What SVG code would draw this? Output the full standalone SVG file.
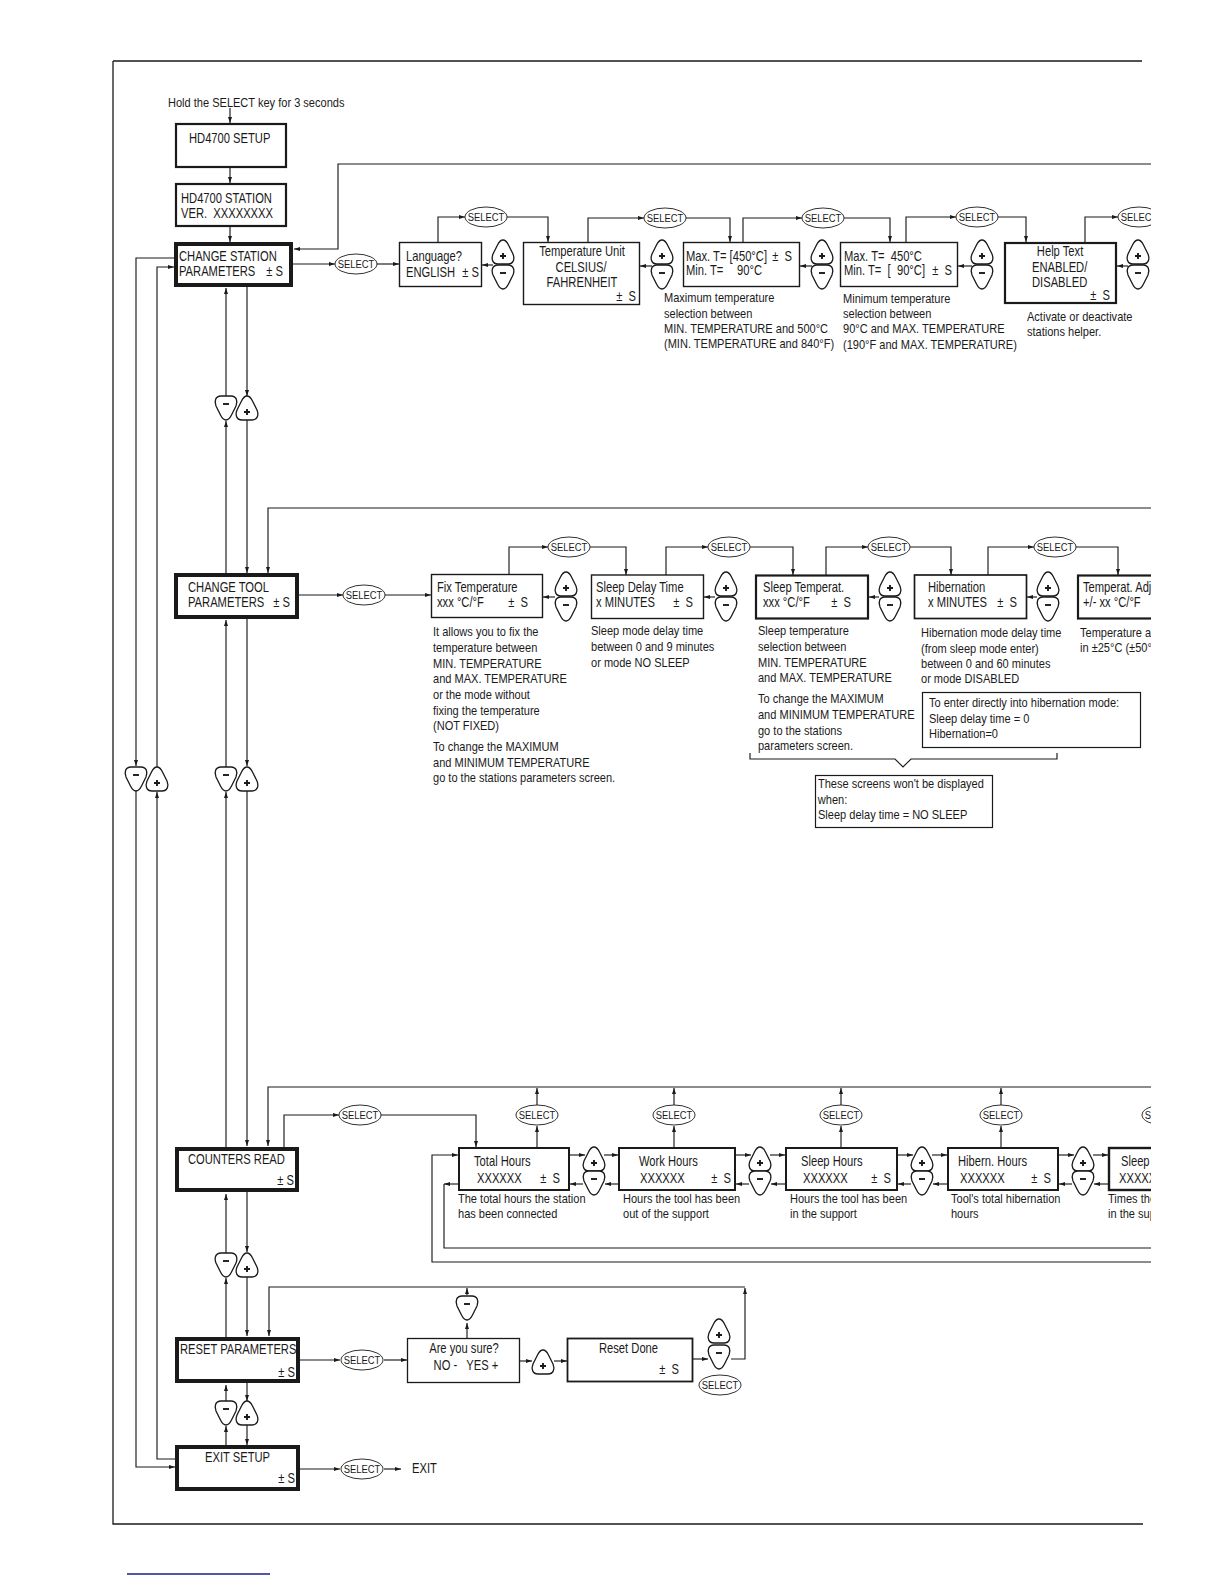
<svg xmlns="http://www.w3.org/2000/svg" xmlns:xlink="http://www.w3.org/1999/xlink" width="1224" height="1584" viewBox="0 0 1224 1584">
<style>
text{font-family:"Liberation Sans",Arial,Helvetica,sans-serif;fill:#1a1a1a;white-space:pre;transform-box:fill-box;transform-origin:0 50%;transform:scaleX(0.8)}
.b{font-size:14px}
.d{font-size:13px;transform:scaleX(0.85)}
.m{text-anchor:middle;transform-origin:50% 50%}
.e{text-anchor:end;transform-origin:100% 50%}
.s{font-size:11.5px;text-anchor:middle;transform-origin:50% 50%;transform:scaleX(0.82)}
.bx{fill:#fff;stroke:#1a1a1a;stroke-width:1.4}
.bm{stroke-width:2.2}
.bk{stroke-width:4}
.cn path{fill:none;stroke:#1a1a1a;stroke-width:1.15}
.ov{fill:#fff;stroke:#1a1a1a;stroke-width:0.9}
.btn{fill:#fff;stroke:#1a1a1a;stroke-width:1.3}
.mk{stroke:#1a1a1a;stroke-width:1.9;fill:none}
.fr{fill:none;stroke:#1a1a1a;stroke-width:1.3}
</style>
<defs>
<marker id="a" viewBox="0 0 6 4" refX="6" refY="2" markerWidth="6" markerHeight="4" markerUnits="userSpaceOnUse" orient="auto"><path d="M0,0 L6,2 L0,4 Z" fill="#1a1a1a"/></marker>
<g id="bp"><path class="btn" d="M0,-12 C2.5,-12 4,-10 5.5,-7 L10,2 C12,7 10.5,12 5,12 L-5,12 C-10.5,12 -12,7 -10,2 L-5.5,-7 C-4,-10 -2.5,-12 0,-12 Z"/><path class="mk" d="M-3,4 H3 M0,1 V7"/></g>
<g id="bn"><path class="btn" d="M0,12 C2.5,12 4,10 5.5,7 L10,-2 C12,-7 10.5,-12 5,-12 L-5,-12 C-10.5,-12 -12,-7 -10,-2 L-5.5,7 C-4,10 -2.5,12 0,12 Z"/><path class="mk" d="M-3,-4 H3"/></g>
<g id="sel"><ellipse class="ov" cx="0" cy="0" rx="21" ry="10"/><text class="s" x="0" y="4">SELECT</text></g>
<clipPath id="clip"><rect x="0" y="0" width="1151" height="1584"/></clipPath>
</defs>
<rect x="0" y="0" width="1224" height="1584" fill="#fff"/>
<g id="frame">
<path class="fr" d="M113,61 H1142 M113,61 V1524 H1143"/>
<path d="M127,1574 H270" stroke="#1c1c8a" stroke-width="1.3" fill="none"/>
</g>
<g clip-path="url(#clip)">
<g id="connectors" class="cn">
<path d="M230,108 V123" marker-end="url(#a)"/>
<path d="M230,168 V183" marker-end="url(#a)"/>
<path d="M230,227 V242" marker-end="url(#a)"/>
<path d="M1160,164 H338 V249 H294" marker-end="url(#a)"/>
<path d="M293,264 H335" marker-end="url(#a)"/>
<path d="M377,264 H399" marker-end="url(#a)"/>
<path d="M438,242 V217 H465" marker-end="url(#a)"/>
<path d="M507,217 H548 V242" marker-end="url(#a)"/>
<path d="M588,242 V218 H644" marker-end="url(#a)"/>
<path d="M686,218 H730 V242" marker-end="url(#a)"/>
<path d="M743,242 V218 H802" marker-end="url(#a)"/>
<path d="M844,218 H890 V242" marker-end="url(#a)"/>
<path d="M906,242 V217 H956" marker-end="url(#a)"/>
<path d="M998,217 H1026 V242" marker-end="url(#a)"/>
<path d="M1085,242 V217 H1118" marker-end="url(#a)"/>
<path d="M493,265 H482" marker-end="url(#a)"/>
<path d="M652,266 H640" marker-end="url(#a)"/>
<path d="M812,266 H800" marker-end="url(#a)"/>
<path d="M972,266 H958" marker-end="url(#a)"/>
<path d="M1128,266 H1117" marker-end="url(#a)"/>
<path d="M174,258 H136 V766" marker-end="url(#a)"/>
<path d="M136,791 V1467 H175" marker-end="url(#a)"/>
<path d="M175,1459 H157 V792" marker-end="url(#a)"/>
<path d="M157,767 V267 H174" marker-end="url(#a)"/>
<path d="M226,573 V421" marker-end="url(#a)"/>
<path d="M226,396 V288" marker-end="url(#a)"/>
<path d="M247,287 V396" marker-end="url(#a)"/>
<path d="M247,420 V573" marker-end="url(#a)"/>
<path d="M1160,508 H268 V573" marker-end="url(#a)"/>
<path d="M299,595 H343" marker-end="url(#a)"/>
<path d="M385,595 H431" marker-end="url(#a)"/>
<path d="M509,574 V547 H548" marker-end="url(#a)"/>
<path d="M590,547 H626 V575" marker-end="url(#a)"/>
<path d="M666,575 V547 H708" marker-end="url(#a)"/>
<path d="M750,547 H793 V575" marker-end="url(#a)"/>
<path d="M826,575 V547 H868" marker-end="url(#a)"/>
<path d="M910,547 H951 V575" marker-end="url(#a)"/>
<path d="M988,575 V547 H1034" marker-end="url(#a)"/>
<path d="M1076,547 H1118 V575" marker-end="url(#a)"/>
<path d="M555,597 H543" marker-end="url(#a)"/>
<path d="M715,597 H704" marker-end="url(#a)"/>
<path d="M879,597 H869" marker-end="url(#a)"/>
<path d="M1037,597 H1027" marker-end="url(#a)"/>
<path d="M226,1147 V792" marker-end="url(#a)"/>
<path d="M226,767 V620" marker-end="url(#a)"/>
<path d="M247,619 V766" marker-end="url(#a)"/>
<path d="M247,791 V1146" marker-end="url(#a)"/>
<path d="M1160,1087 H268 V1146" marker-end="url(#a)"/>
<path d="M284,1147 V1115 H339" marker-end="url(#a)"/>
<path d="M381,1115 H476 V1147" marker-end="url(#a)"/>
<path d="M537,1147 V1126" marker-end="url(#a)"/>
<path d="M537,1105 V1088" marker-end="url(#a)"/>
<path d="M674,1147 V1126" marker-end="url(#a)"/>
<path d="M674,1105 V1088" marker-end="url(#a)"/>
<path d="M841,1147 V1126" marker-end="url(#a)"/>
<path d="M841,1105 V1088" marker-end="url(#a)"/>
<path d="M1001,1147 V1126" marker-end="url(#a)"/>
<path d="M1001,1105 V1088" marker-end="url(#a)"/>
<path d="M1163,1147 V1126" marker-end="url(#a)"/>
<path d="M1163,1105 V1088" marker-end="url(#a)"/>
<path d="M1160,1262 H432 V1155 H458" marker-end="url(#a)"/>
<path d="M458,1184 H444" marker-end="url(#a)"/>
<path d="M444,1184 V1248 H1160"/>
<path d="M570,1155 H585" marker-end="url(#a)"/>
<path d="M604,1155 H618" marker-end="url(#a)"/>
<path d="M618,1184 H605" marker-end="url(#a)"/>
<path d="M583,1184 H570" marker-end="url(#a)"/>
<path d="M736,1155 H751" marker-end="url(#a)"/>
<path d="M770,1155 H785" marker-end="url(#a)"/>
<path d="M785,1184 H771" marker-end="url(#a)"/>
<path d="M749,1184 H736" marker-end="url(#a)"/>
<path d="M898,1155 H913" marker-end="url(#a)"/>
<path d="M932,1155 H947" marker-end="url(#a)"/>
<path d="M947,1184 H933" marker-end="url(#a)"/>
<path d="M911,1184 H898" marker-end="url(#a)"/>
<path d="M1059,1155 H1074" marker-end="url(#a)"/>
<path d="M1093,1155 H1108" marker-end="url(#a)"/>
<path d="M1108,1184 H1094" marker-end="url(#a)"/>
<path d="M1072,1184 H1059" marker-end="url(#a)"/>
<path d="M226,1337 V1278" marker-end="url(#a)"/>
<path d="M226,1253 V1194" marker-end="url(#a)"/>
<path d="M247,1192 V1252" marker-end="url(#a)"/>
<path d="M247,1277 V1336" marker-end="url(#a)"/>
<path d="M731,1359 H745 V1288" marker-end="url(#a)"/>
<path d="M745,1287 H269 V1336" marker-end="url(#a)"/>
<path d="M300,1360 H340" marker-end="url(#a)"/>
<path d="M384,1360 H407" marker-end="url(#a)"/>
<path d="M467,1338 V1323" marker-end="url(#a)"/>
<path d="M467,1295 V1288" marker-end="url(#a)"/>
<path d="M520,1361 H532" marker-end="url(#a)"/>
<path d="M554,1361 H567" marker-end="url(#a)"/>
<path d="M693,1359 H708" marker-end="url(#a)"/>
<path d="M226,1445 V1426" marker-end="url(#a)"/>
<path d="M226,1401 V1385" marker-end="url(#a)"/>
<path d="M247,1383 V1401" marker-end="url(#a)"/>
<path d="M247,1425 V1445" marker-end="url(#a)"/>
<path d="M300,1469 H340" marker-end="url(#a)"/>
<path d="M384,1469 H401" marker-end="url(#a)"/>
<path d="M750,753 V759 H895 L903,767 L911,759 H1057 V753"/>
</g>
<g id="selects">
<use xlink:href="#sel" x="356" y="264"/>
<use xlink:href="#sel" x="486" y="217"/>
<use xlink:href="#sel" x="665" y="218"/>
<use xlink:href="#sel" x="823" y="218"/>
<use xlink:href="#sel" x="977" y="217"/>
<use xlink:href="#sel" x="1139" y="217"/>
<use xlink:href="#sel" x="364" y="595"/>
<use xlink:href="#sel" x="569" y="547"/>
<use xlink:href="#sel" x="729" y="547"/>
<use xlink:href="#sel" x="889" y="547"/>
<use xlink:href="#sel" x="1055" y="547"/>
<use xlink:href="#sel" x="360" y="1115"/>
<use xlink:href="#sel" x="537" y="1115"/>
<use xlink:href="#sel" x="674" y="1115"/>
<use xlink:href="#sel" x="841" y="1115"/>
<use xlink:href="#sel" x="1001" y="1115"/>
<use xlink:href="#sel" x="1163" y="1115"/>
<use xlink:href="#sel" x="362" y="1360"/>
<use xlink:href="#sel" x="720" y="1385"/>
<use xlink:href="#sel" x="362" y="1469"/>
</g>
<g id="buttons">
<use xlink:href="#bp" x="503" y="252"/><use xlink:href="#bn" x="503" y="277"/>
<use xlink:href="#bp" x="662" y="252"/><use xlink:href="#bn" x="662" y="277"/>
<use xlink:href="#bp" x="822" y="252"/><use xlink:href="#bn" x="822" y="277"/>
<use xlink:href="#bp" x="982" y="252"/><use xlink:href="#bn" x="982" y="277"/>
<use xlink:href="#bp" x="1138" y="252"/><use xlink:href="#bn" x="1138" y="277"/>
<use xlink:href="#bp" x="566" y="584"/><use xlink:href="#bn" x="566" y="609"/>
<use xlink:href="#bp" x="726" y="584"/><use xlink:href="#bn" x="726" y="609"/>
<use xlink:href="#bp" x="890" y="584"/><use xlink:href="#bn" x="890" y="609"/>
<use xlink:href="#bp" x="1048" y="584"/><use xlink:href="#bn" x="1048" y="609"/>
<use xlink:href="#bn" x="226" y="408"/><use xlink:href="#bp" x="247" y="408"/>
<use xlink:href="#bn" x="136" y="779"/><use xlink:href="#bp" x="157" y="779"/>
<use xlink:href="#bn" x="226" y="779"/><use xlink:href="#bp" x="247" y="779"/>
<use xlink:href="#bp" x="594" y="1159"/><use xlink:href="#bn" x="594" y="1183"/>
<use xlink:href="#bp" x="760" y="1159"/><use xlink:href="#bn" x="760" y="1183"/>
<use xlink:href="#bp" x="922" y="1159"/><use xlink:href="#bn" x="922" y="1183"/>
<use xlink:href="#bp" x="1083" y="1159"/><use xlink:href="#bn" x="1083" y="1183"/>
<use xlink:href="#bn" x="226" y="1265"/><use xlink:href="#bp" x="247" y="1265"/>
<use xlink:href="#bn" x="467" y="1308"/>
<use xlink:href="#bp" x="543" y="1362"/>
<use xlink:href="#bp" x="719" y="1331"/><use xlink:href="#bn" x="719" y="1357"/>
<use xlink:href="#bn" x="226" y="1413"/><use xlink:href="#bp" x="247" y="1413"/>
</g>
<text class="d" x="168" y="107">Hold the SELECT key for 3 seconds</text>
<g id="setup"><rect class="bx bm" x="176" y="124" width="110" height="43"/><text class="b" x="189" y="143">HD4700 SETUP</text></g>
<g id="station"><rect class="bx bm" x="176" y="184" width="110" height="42"/><text class="b" x="181" y="203">HD4700 STATION</text><text class="b" x="181" y="218">VER.  XXXXXXXX</text></g>
<g id="change-station"><rect class="bx bk" x="176" y="244" width="115" height="41"/><text class="b" x="179" y="261">CHANGE STATION</text><text class="b" x="179" y="276">PARAMETERS</text><text class="b e" x="283" y="276">± S</text></g>
<g id="language"><rect class="bx" x="399.5" y="242.5" width="82" height="44"/><text class="b" x="406" y="261">Language?</text><text class="b" x="406" y="277">ENGLISH</text><text class="b e" x="479" y="277">± S</text></g>
<g id="temp-unit"><rect class="bx" x="523.5" y="242.5" width="116" height="62"/><text class="b m" x="582" y="256">Temperature Unit</text><text class="b m" x="581" y="272">CELSIUS/</text><text class="b m" x="582" y="287">FAHRENHEIT</text><text class="b e" x="636" y="301">±  S</text></g>
<g id="max-t"><rect class="bx" x="683.5" y="242.5" width="116" height="44"/><text class="b" x="686" y="261">Max. T= [450°C]</text><text class="b e" x="792" y="261">±  S</text><text class="b" x="686" y="275">Min. T=</text><text class="b" x="737" y="275">90°C</text></g>
<text class="d" x="664" y="302">Maximum temperature</text>
<text class="d" x="664" y="318">selection between</text>
<text class="d" x="664" y="333">MIN. TEMPERATURE and 500°C</text>
<text class="d" x="664" y="348">(MIN. TEMPERATURE and 840°F)</text>
<g id="min-t"><rect class="bx" x="840.5" y="242.5" width="117" height="44"/><text class="b" x="844" y="261">Max. T=  450°C</text><text class="b" x="844" y="275">Min. T=  [  90°C]</text><text class="b e" x="952" y="275">±  S</text></g>
<text class="d" x="843" y="303">Minimum temperature</text>
<text class="d" x="843" y="318">selection between</text>
<text class="d" x="843" y="333">90°C and MAX. TEMPERATURE</text>
<text class="d" x="843" y="349">(190°F and MAX. TEMPERATURE)</text>
<g id="help-text"><rect class="bx bm" x="1005" y="243" width="111" height="60"/><text class="b m" x="1060" y="256">Help Text</text><text class="b" x="1032" y="272">ENABLED/</text><text class="b" x="1032" y="287">DISABLED</text><text class="b e" x="1110" y="300">±  S</text></g>
<text class="d" x="1027" y="321">Activate or deactivate</text>
<text class="d" x="1027" y="336">stations helper.</text>
<g id="change-tool"><rect class="bx bk" x="176" y="575" width="121" height="42"/><text class="b" x="188" y="592">CHANGE TOOL</text><text class="b" x="188" y="607">PARAMETERS</text><text class="b e" x="290" y="607">± S</text></g>
<g id="fix-temp"><rect class="bx" x="431.5" y="574.5" width="111" height="43"/><text class="b" x="437" y="592">Fix Temperature</text><text class="b" x="437" y="607">xxx °C/°F</text><text class="b e" x="528" y="607">±  S</text></g>
<text class="d" x="433" y="636">It allows you to fix the</text>
<text class="d" x="433" y="652">temperature between</text>
<text class="d" x="433" y="668">MIN. TEMPERATURE</text>
<text class="d" x="433" y="683">and MAX. TEMPERATURE</text>
<text class="d" x="433" y="699">or the mode without</text>
<text class="d" x="433" y="715">fixing the temperature</text>
<text class="d" x="433" y="730">(NOT FIXED)</text>
<text class="d" x="433" y="751">To change the MAXIMUM</text>
<text class="d" x="433" y="767">and MINIMUM TEMPERATURE</text>
<text class="d" x="433" y="782">go to the stations parameters screen.</text>
<g id="sleep-delay"><rect class="bx" x="591.5" y="575" width="112" height="43.5"/><text class="b" x="596" y="592">Sleep Delay Time</text><text class="b" x="596" y="607">x MINUTES</text><text class="b e" x="693" y="607">±  S</text></g>
<text class="d" x="591" y="635">Sleep mode delay time</text>
<text class="d" x="591" y="651">between 0 and 9 minutes</text>
<text class="d" x="591" y="667">or mode NO SLEEP</text>
<g id="sleep-temp"><rect class="bx bm" x="756" y="575.5" width="112" height="43"/><text class="b" x="763" y="592">Sleep Temperat.</text><text class="b" x="763" y="607">xxx °C/°F</text><text class="b e" x="851" y="607">±  S</text></g>
<text class="d" x="758" y="635">Sleep temperature</text>
<text class="d" x="758" y="651">selection between</text>
<text class="d" x="758" y="667">MIN. TEMPERATURE</text>
<text class="d" x="758" y="682">and MAX. TEMPERATURE</text>
<text class="d" x="758" y="703">To change the MAXIMUM</text>
<text class="d" x="758" y="719">and MINIMUM TEMPERATURE</text>
<text class="d" x="758" y="735">go to the stations</text>
<text class="d" x="758" y="750">parameters screen.</text>
<g id="hibernation"><rect class="bx" x="914.5" y="575" width="112" height="43.5" style="stroke-width:1.7"/><text class="b" x="928" y="592">Hibernation</text><text class="b" x="928" y="607">x MINUTES</text><text class="b e" x="1017" y="607">±  S</text></g>
<text class="d" x="921" y="637">Hibernation mode delay time</text>
<text class="d" x="921" y="653">(from sleep mode enter)</text>
<text class="d" x="921" y="668">between 0 and 60 minutes</text>
<text class="d" x="921" y="683">or mode DISABLED</text>
<g id="note-hibernation"><rect class="bx" x="922.5" y="692.5" width="218" height="55" style="stroke-width:1.2"/><text class="d" x="929" y="707">To enter directly into hibernation mode:</text><text class="d" x="929" y="723">Sleep delay time = 0</text><text class="d" x="929" y="738">Hibernation=0</text></g>
<g id="temp-adjust"><rect class="bx bm" x="1078" y="575.5" width="100" height="43"/><text class="b" x="1083" y="592">Temperat. Adju</text><text class="b" x="1083" y="607">+/- xx °C/°F</text></g>
<text class="d" x="1080" y="637">Temperature ad</text>
<text class="d" x="1080" y="652">in ±25°C (±50°</text>
<g id="note-sleep"><rect class="bx" x="815.5" y="775.5" width="177" height="52" style="stroke-width:1.2"/><text class="d" x="818" y="788">These screens won't be displayed</text><text class="d" x="818" y="804">when:</text><text class="d" x="818" y="819">Sleep delay time = NO SLEEP</text></g>
<g id="counters-read"><rect class="bx bk" x="177" y="1149" width="120" height="41"/><text class="b" x="188" y="1164">COUNTERS READ</text><text class="b e" x="294" y="1185">± S</text></g>
<g id="total-hours"><rect class="bx" x="459" y="1148" width="110" height="42" style="stroke-width:2"/><text class="b" x="474" y="1166">Total Hours</text><text class="b" x="477" y="1183">XXXXXX</text><text class="b e" x="560" y="1183">±  S</text></g>
<text class="d" x="458" y="1203">The total hours the station</text>
<text class="d" x="458" y="1218">has been connected</text>
<g id="work-hours"><rect class="bx" x="619" y="1148" width="116" height="42" style="stroke-width:2"/><text class="b" x="639" y="1166">Work Hours</text><text class="b" x="640" y="1183">XXXXXX</text><text class="b e" x="731" y="1183">±  S</text></g>
<text class="d" x="623" y="1203">Hours the tool has been</text>
<text class="d" x="623" y="1218">out of the support</text>
<g id="sleep-hours"><rect class="bx" x="786" y="1148" width="111" height="42" style="stroke-width:2"/><text class="b" x="801" y="1166">Sleep Hours</text><text class="b" x="803" y="1183">XXXXXX</text><text class="b e" x="891" y="1183">±  S</text></g>
<text class="d" x="790" y="1203">Hours the tool has been</text>
<text class="d" x="790" y="1218">in the support</text>
<g id="hibern-hours"><rect class="bx" x="948" y="1148" width="110" height="42" style="stroke-width:2"/><text class="b" x="958" y="1166">Hibern. Hours</text><text class="b" x="960" y="1183">XXXXXX</text><text class="b e" x="1051" y="1183">±  S</text></g>
<text class="d" x="951" y="1203">Tool's total hibernation</text>
<text class="d" x="951" y="1218">hours</text>
<g id="sleep-count"><rect class="bx" x="1109" y="1148" width="80" height="42" style="stroke-width:2.4"/><text class="b" x="1121" y="1166">Sleep C</text><text class="b" x="1119" y="1183">XXXXXX</text></g>
<text class="d" x="1108" y="1203">Times the</text>
<text class="d" x="1108" y="1218">in the sup</text>
<g id="reset-parameters"><rect class="bx bk" x="177" y="1339" width="121" height="42"/><text class="b" x="180" y="1354">RESET PARAMETERS</text><text class="b e" x="295" y="1377">± S</text></g>
<g id="are-you-sure"><rect class="bx" x="407.5" y="1338.5" width="112" height="44" style="stroke-width:1.3"/><text class="b m" x="464" y="1353">Are you sure?</text><text class="b m" x="466" y="1370">NO -   YES +</text></g>
<g id="reset-done"><rect class="bx" x="567.5" y="1338.5" width="125" height="43" style="stroke-width:1.8"/><text class="b" x="599" y="1353">Reset Done</text><text class="b e" x="679" y="1374">±  S</text></g>
<g id="exit-setup"><rect class="bx bk" x="177" y="1447" width="121" height="42"/><text class="b" x="205" y="1462">EXIT SETUP</text><text class="b e" x="295" y="1483">± S</text></g>
<text class="b" x="412" y="1473">EXIT</text>
</g>
</svg>
